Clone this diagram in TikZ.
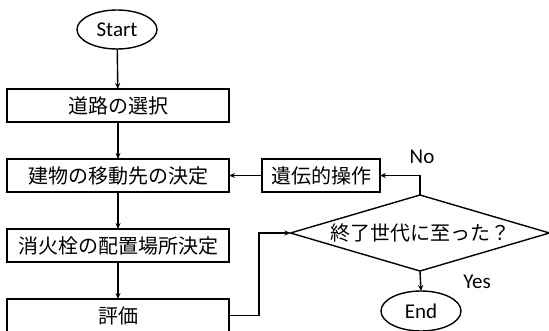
\documentclass[tikz,border=0pt]{standalone}
\usepackage{fontspec}
\setmainfont{Carlito}
\newfontfamily\jp{Noto Sans CJK JP}
\usetikzlibrary{shapes.geometric,arrows.meta}
\begin{document}
\begin{tikzpicture}[x=1pt,y=-1pt,
  every node/.style={font=\jp\fontsize{20}{22}\selectfont, inner sep=0pt, outer sep=0pt},
  lat/.style={font=\fontsize{21}{24}\selectfont},
  term/.style={draw, ellipse, line width=1.4pt, minimum width=80pt, minimum height=39pt, lat},
  proc/.style={draw, rectangle, line width=1.4pt, minimum width=222pt, minimum height=33pt},
  arr/.style={line width=1.4pt, -{Stealth[length=6pt,width=5pt]}},
  ln/.style={line width=1.4pt}]
\useasboundingbox (0,0) rectangle (549,331);
\clip (0,0) rectangle (549,331);
\node[term] (start) at (117,29.5) {Start};
\node[proc] (b1) at (118,105.5) {道路の選択};
\node[proc] (b2) at (118,175.5) {建物の移動先の決定};
\node[proc] (b3) at (118,245.5) {消火栓の配置場所決定};
\node[proc] (b4) at (118,315.5) {評価};
\node[proc, minimum width=118pt] (ga) at (321,175.5) {遺伝的操作};
\node[draw, diamond, shape aspect=3.4, line width=1.4pt, minimum width=259pt, minimum height=76pt] (dia) at (420,233) {終了世代に至った？};
\node[term, minimum height=40pt] (end) at (421,311) {End};
\node[lat] (no) at (422,157) {No};
\node[lat] (yes) at (477,282) {Yes};
\coordinate (j) at (259,315.5);
\draw[arr] (start) -- (b1);
\draw[arr] (b1) -- (b2);
\draw[arr] (b2) -- (b3);
\draw[arr] (b3) -- (b4);
\draw[arr] (b4.east) -- (j) |- (dia.west);
\draw[arr] (dia.north) |- (ga.east);
\draw[arr] (ga.west) -- (b2.east);
\draw[arr] (dia.south) -- (end.north);
\end{tikzpicture}
\end{document}
